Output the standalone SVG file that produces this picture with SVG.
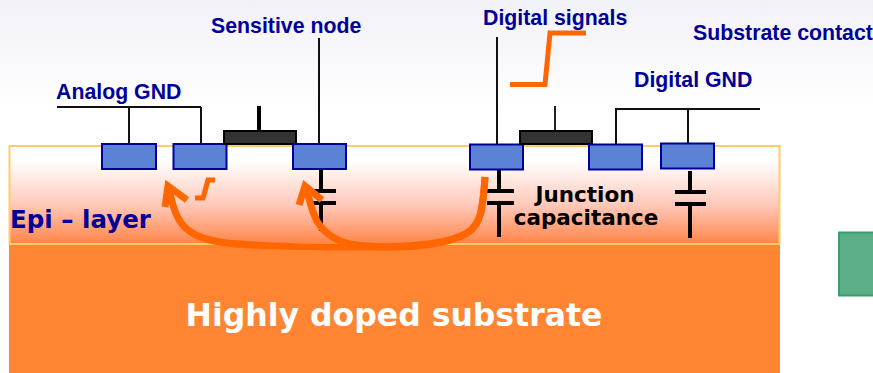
<svg xmlns="http://www.w3.org/2000/svg" width="873" height="373" viewBox="0 0 873 373">
<defs>
<linearGradient id="bg" x1="0" y1="0" x2="0" y2="1"><stop offset="0" stop-color="#f1f1f8"/><stop offset="1" stop-color="#ffffff"/></linearGradient>
<linearGradient id="epi" x1="0" y1="0" x2="0" y2="1"><stop offset="0" stop-color="#ffffff"/><stop offset="0.15" stop-color="#ffffff"/><stop offset="0.6" stop-color="#ffc9ba"/><stop offset="1" stop-color="#ff8448"/></linearGradient>
<style>
.lbl{font-family:"Liberation Sans",Arial,sans-serif;font-weight:700;font-size:21.300px;fill:#000099}
.big{font-family:"DejaVu Sans",Verdana,sans-serif;font-weight:700}
.w{fill:none;stroke:#111;stroke-width:2}
.cap{fill:none;stroke:#000;stroke-width:4}
.box{fill:#5b82d4;stroke:#000099;stroke-width:2}
.gate{fill:#333;stroke:#000;stroke-width:2}
.arc{fill:none;stroke:#ff6600;stroke-width:7}
</style>
</defs>
<rect width="873" height="110" fill="url(#bg)"/>
<g id="substrate"><rect x="9" y="245" width="771" height="128" fill="#ff8533"/><text x="394" y="326" text-anchor="middle" class="big" font-size="31.500" fill="#fff">Highly doped substrate</text></g>
<g id="epi-layer"><rect x="9.500" y="146" width="770" height="98" fill="url(#epi)" stroke="#ffcc66" stroke-width="2"/><text x="10" y="228" class="big" font-size="24.500" fill="#000099">Epi – layer</text></g>
<g id="substrate-contact"><rect x="839" y="232.500" width="40" height="63" fill="#5bae85" stroke="#3a9e6c" stroke-width="2"/></g>
<g id="connectors">
<path class="w" d="M57 107H201M129 107V144M201 107V144M319 38V144M497 37V144M616 144V109H760M688 109V144"/>
<path class="cap" d="M321 170V192M310 191H336M310 203H336M321 203V231"/>
<path class="cap" d="M499 170V191M487 191H514M487 203H514M499 203V237"/>
<path class="cap" d="M690 171V192M675 192H706M675 204H706M690 204V238"/>
<path d="M259 106V130" fill="none" stroke="#000" stroke-width="4"/>
<path d="M555 106V130" fill="none" stroke="#222" stroke-width="2"/>
</g>
<g id="node-a"><rect class="box" x="102" y="144" width="54" height="25"/></g>
<g id="node-b"><rect class="box" x="173.500" y="144" width="53" height="25"/></g>
<g id="gate-1"><rect class="gate" x="224" y="131" width="72" height="13"/></g>
<g id="sensitive-node"><rect class="box" x="293" y="144" width="53" height="25"/></g>
<g id="node-d"><rect class="box" x="470" y="144.500" width="53" height="25"/></g>
<g id="gate-2"><rect class="gate" x="520" y="131" width="72" height="13"/></g>
<g id="node-e"><rect class="box" x="589" y="144.500" width="53" height="25"/></g>
<g id="node-f"><rect class="box" x="661" y="143.500" width="53" height="25"/></g>
<g id="signals">
<path class="arc" d="M485 177C483 205 482 224 467 233C452 242 425 247 370 247C290 247 240 246 214 241C185 235 174 222 169 186"/>
<path class="arc" d="M485 177C483 205 482 224 467 233C452 242 425 247 395 247C370 247 350 246 340 241C318 231 313 218 306 186"/>
<path class="arc" d="M165 207L168 186L187 200"/>
<path class="arc" d="M299 205L305 186L322 200"/>
<path d="M195 198H203L208 180H215" fill="none" stroke="#ff6600" stroke-width="5"/>
<path d="M510 84.500H545L550 33H586" fill="none" stroke="#ff6600" stroke-width="5"/>
</g>
<g id="labels">
<text class="lbl" x="211" y="33">Sensitive node</text>
<text class="lbl" x="483" y="25">Digital signals</text>
<text class="lbl" x="693" y="40">Substrate contact</text>
<text class="lbl" x="634" y="87">Digital GND</text>
<text class="lbl" x="56" y="99">Analog GND</text>
<text class="big" font-size="21.500" fill="#000" x="585" y="202" text-anchor="middle">Junction</text>
<text class="big" font-size="21.500" fill="#000" x="586" y="225" text-anchor="middle">capacitance</text>
</g>
</svg>
